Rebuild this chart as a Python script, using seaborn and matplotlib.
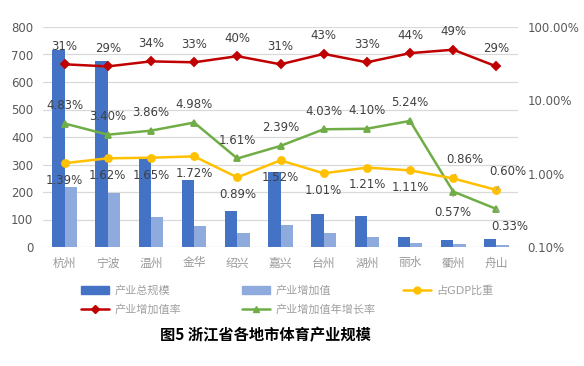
import matplotlib
matplotlib.use("Agg")
import matplotlib.pyplot as plt
import matplotlib.ticker as mticker
from matplotlib.lines import Line2D
from matplotlib.patches import Patch
import seaborn as sns
import pandas as pd

cities = ['杭州', '宁波', '温州', '金华', '绍兴', '嘉兴', '台州', '湖州', '丽水', '衢州', '舟山']
total_scale = [716, 678, 326, 243, 132, 271, 121, 114, 37, 27, 30]
added_value = [220, 196, 109, 76, 52, 81, 52, 37, 16, 12, 8]
gdp_share = [1.39, 1.62, 1.65, 1.72, 0.89, 1.52, 1.01, 1.21, 1.11, 0.86, 0.60]
added_rate = [31, 29, 34, 33, 40, 31, 43, 33, 44, 49, 29]
growth_rate = [4.83, 3.40, 3.86, 4.98, 1.61, 2.39, 4.03, 4.10, 5.24, 0.57, 0.33]

bar_names = ['产业总规模', '产业增加值']
bar_colors = ['#4472C4', '#8FAADC']

sns.set_style("white")
plt.rcParams['font.family'] = ['DejaVu Sans', 'Noto Sans CJK SC']

bars = pd.DataFrame({
    'city': cities * 2,
    'value': total_scale + added_value,
    'series': [bar_names[0]] * len(cities) + [bar_names[1]] * len(cities),
})

fig = plt.figure(figsize=(5.84, 3.66), dpi=100)
ax = fig.add_axes([43 / 584, 119 / 366, 475 / 584, 220 / 366])

sns.barplot(data=bars, x='city', y='value', hue='series', hue_order=bar_names,
            palette=bar_colors, width=0.57, gap=0, saturation=1, legend=False,
            linewidth=0, ax=ax)
ax.set_ylim(0, 800)
ax.set_yticks(range(0, 801, 100))
ax.set_axisbelow(True)
ax.yaxis.grid(True, color='#D9D9D9', linewidth=0.9)
ax.xaxis.grid(False)
for s in ax.spines.values():
    s.set_visible(False)
ax.set_xlabel('')
ax.set_ylabel('')
ax.tick_params(axis='y', length=0, pad=7, labelsize=8.5, labelcolor='#595959')
ax.tick_params(axis='x', length=0, pad=14, labelsize=8.5, labelcolor='#999999')
for t in ax.get_xticklabels():
    t.set_family('Noto Sans CJK SC')
    t.set_verticalalignment('baseline')

ax2 = ax.twinx()
ax2.set_yscale('log')

lines = [
    ('产业增加值率', added_rate, '#C00000', 'D', 4.0),
    ('产业增加值年增长率', growth_rate, '#70AD47', '^', 5.0),
    ('占GDP比重', gdp_share, '#FFC000', 'o', 5.0),
]
for name, vals, color, marker, ms in lines:
    df = pd.DataFrame({'city': cities, 'v': [v / 100 for v in vals]})
    sns.pointplot(data=df, x='city', y='v', color=color, markers=marker,
                  markersize=ms, linewidth=1.8, errorbar=None, ax=ax2)

ax2.set_yscale('log')
ax2.set_ylim(0.001, 1)
ax2.yaxis.set_major_locator(mticker.FixedLocator([0.001, 0.01, 0.1, 1]))
ax2.yaxis.set_minor_locator(mticker.NullLocator())
ax2.yaxis.set_major_formatter(mticker.FuncFormatter(lambda v, p: f"{v * 100:.2f}%"))
ax2.tick_params(axis='y', length=0, pad=7, labelsize=8.5, labelcolor='#595959')
for s in ax2.spines.values():
    s.set_visible(False)
ax2.set_xlabel('')
ax2.set_ylabel('')
ax2.grid(False)

lab_kw = dict(textcoords='offset points', ha='center', va='center',
              fontsize=8.5, color='#404040')
lead = dict(arrowstyle='-', color='#A6A6A6', lw=0.8, shrinkA=4, shrinkB=3)

for i, v in enumerate(added_rate):
    ax2.annotate(f"{v:.0f}%", (i, v / 100), xytext=(0, 13), **lab_kw)

for i, v in enumerate(growth_rate):
    if cities[i] == '衢州':
        ax2.annotate(f"{v:.2f}%", (i, v / 100), xytext=(0, -15), arrowprops=lead, **lab_kw)
    elif cities[i] == '舟山':
        ax2.annotate(f"{v:.2f}%", (i, v / 100), xytext=(9.5, -12.5), arrowprops=lead, **lab_kw)
    else:
        ax2.annotate(f"{v:.2f}%", (i, v / 100), xytext=(0, 13), **lab_kw)

for i, v in enumerate(gdp_share):
    if cities[i] == '衢州':
        ax2.annotate(f"{v:.2f}%", (i, v / 100), xytext=(8.5, 13.5), arrowprops=lead, **lab_kw)
    elif cities[i] == '舟山':
        ax2.annotate(f"{v:.2f}%", (i, v / 100), xytext=(8, 13), arrowprops=lead, **lab_kw)
    else:
        ax2.annotate(f"{v:.2f}%", (i, v / 100), xytext=(0, -12.5), **lab_kw)

# legend, three columns placed by hand
leg_kw = dict(loc='upper left', frameon=False, fontsize=8, labelcolor='#A0A0A0',
              borderpad=0, borderaxespad=0, handlelength=2.5, handletextpad=0.5,
              labelspacing=0.8)
col1 = [Patch(color=bar_colors[0], label=bar_names[0]),
        Line2D([], [], color='#C00000', marker='D', markersize=4, lw=1.8, label='产业增加值率')]
col2 = [Patch(color=bar_colors[1], label=bar_names[1]),
        Line2D([], [], color='#70AD47', marker='^', markersize=5, lw=1.8, label='产业增加值年增长率')]
col3 = [Line2D([], [], color='#FFC000', marker='o', markersize=5, lw=1.8, label='占GDP比重')]
for x0, handles in [(81, col1), (242, col2), (403, col3)]:
    fig.legend(handles=handles, bbox_to_anchor=(x0 / 584, 1 - 285 / 366), **leg_kw)

fig.text(265 / 584, 1 - 335 / 366, '图5 浙江省各地市体育产业规模', ha='center', va='center',
         fontsize=11, fontweight='bold', color='#000000',
         family=['Noto Sans CJK SC', 'DejaVu Sans'])

fig.savefig('out.png', dpi=100)
